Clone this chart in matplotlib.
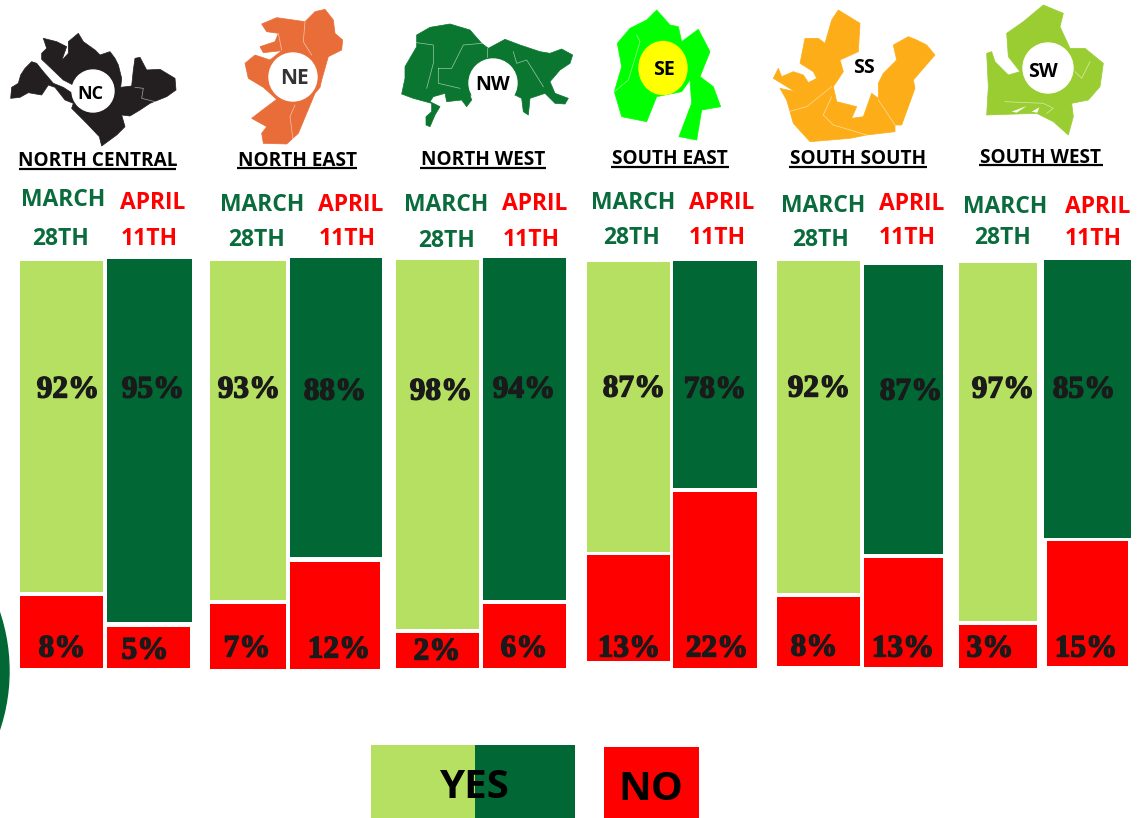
# -*- coding: utf-8 -*-
import numpy as np
import matplotlib
matplotlib.use('Agg')
import matplotlib.pyplot as plt
import matplotlib.patheffects as pe
from matplotlib.patches import Circle, Ellipse, Polygon, Rectangle

# region names and map badges
regions = ['NORTH CENTRAL', 'NORTH EAST', 'NORTH WEST', 'SOUTH EAST', 'SOUTH SOUTH', 'SOUTH WEST']
badges = ['NC', 'NE', 'NW', 'SE', 'SS', 'SW']

# printed percentages
yes_march = [92, 93, 98, 87, 92, 97]
yes_april = [95, 88, 94, 78, 87, 85]
no_march = [8, 7, 2, 13, 8, 3]
no_april = [5, 12, 6, 22, 13, 15]

# the blocks in the picture are not to scale with the printed figures,
# so their lengths are read off separately
yes_march_len = [331, 339, 369, 290, 332, 358]
yes_april_len = [363, 299, 342, 227, 289, 278]
no_march_len = [72, 65, 35, 106, 69, 43]
no_april_len = [41, 107, 64, 176, 109, 125]

# layout, in pixels of the image
march_left = [20, 210, 396, 587, 777, 959]
march_width = [83, 76, 83, 83, 83, 78]
april_left = [107, 290, 483, 673, 864, 1044]
april_width = [85, 92, 83, 84, 79, 87]
no_april_left = [107, 290, 483, 673, 864, 1047]
no_april_width = [83, 90, 83, 84, 79, 81]
march_top = [261, 261, 260, 262, 261, 263]
april_top = [259, 258, 258, 261, 265, 260]
no_march_top = [596, 604, 633, 555, 597, 625]
no_april_top = [627, 562, 604, 492, 558, 541]

LIGHT = '#b5e061'
DARK = '#016735'
RED = '#ff0000'
TEXT_GREEN = '#0a6b3c'
INK = '#1a1a1a'

HEAD = 'Open Sans'
NUM = ['Liberation Serif', 'DejaVu Serif']

fig = plt.figure(figsize=(11.37, 8.18), dpi=100)
ax = fig.add_axes([0, 0, 1, 1])
ax.set_xlim(0, 1137)
ax.set_ylim(818, 0)
ax.axis('off')

# stacked blocks
ax.bar(march_left, yes_march_len, march_width, bottom=march_top, align='edge', color=LIGHT)
ax.bar(april_left, yes_april_len, april_width, bottom=april_top, align='edge', color=DARK)
ax.bar(march_left, no_march_len, march_width, bottom=no_march_top, align='edge', color=RED)
ax.bar(no_april_left, no_april_len, no_april_width, bottom=no_april_top, align='edge', color=RED)

# percent labels
yes_march_x = [68, 249, 441, 634, 819, 1003]
yes_april_x = [153, 335, 524, 715, 911, 1084]
no_march_x = [62, 247, 437, 629, 814, 990]
no_april_x = [145, 339, 524, 717, 903, 1086]
yes_march_y = [390, 390, 392, 389, 389, 390]
yes_april_y = [390, 392, 390, 390, 392, 390]
no_march_y = [649, 649, 652, 649, 648, 649]
no_april_y = [651, 650, 649, 649, 649, 649]


def pct(xs, ys, vals):
    for x, y, v in zip(xs, ys, vals):
        t = ax.text(x, y, '%d%%' % v, ha='center', va='center', fontsize=22.5,
                    fontweight='bold', family=NUM, color=INK)
        # the original face is much fatter than anything installed
        t.set_path_effects([pe.withStroke(linewidth=1.0, foreground=INK)])


pct(yes_march_x, yes_march_y, yes_march)
pct(yes_april_x, yes_april_y, yes_april)
pct(no_march_x, no_march_y, no_march)
pct(no_april_x, no_april_y, no_april)

# column headings
march_x = [63, 262, 446, 633, 823, 1005]
march_y = [200, 205, 205, 203, 206, 207]
th28_x = [61, 257, 447, 632, 821, 1003]
th28_y = [239, 240, 241, 238, 240, 238]
april_x = [153, 351, 535, 722, 912, 1098]
april_y = [203, 205, 204, 203, 204, 207]
th11_x = [149, 347, 531, 717, 907, 1093]
th11_y = [239, 239, 240, 238, 238, 239]

for i in range(6):
    ax.text(march_x[i], march_y[i], 'MARCH', ha='center', va='center', fontsize=16.5, fontweight='bold', family=HEAD, color=TEXT_GREEN)
    ax.text(th28_x[i], th28_y[i], '28TH', ha='center', va='center', fontsize=16.5, fontweight='bold', family=HEAD, color=TEXT_GREEN)
    ax.text(april_x[i], april_y[i], 'APRIL', ha='center', va='center', fontsize=16.5, fontweight='bold', family=HEAD, color=RED)
    ax.text(th11_x[i], th11_y[i], '11TH', ha='center', va='center', fontsize=16.5, fontweight='bold', family=HEAD, color=RED)

# region titles with underline
title_x = [98, 297, 483, 670, 858, 1041]
title_y = [161, 161, 160, 159, 159, 158]
rule_y = [169, 168, 168, 167, 167, 165]
rule_a = [19, 237, 420, 611, 789, 979]
rule_b = [176, 357, 546, 729, 927, 1103]
for i in range(6):
    ax.text(title_x[i], title_y[i], regions[i], ha='center', va='center', fontsize=13.7, fontweight='bold', family=HEAD, color='black')
    ax.plot([rule_a[i], rule_b[i]], [rule_y[i], rule_y[i]], color='black', lw=1.6, solid_capstyle='butt')


# map outlines traced at 3x, x0 is the crop corner
def to_px(points, x0):
    pts = np.array(points, dtype=float) / 3.0
    pts[:, 0] += x0
    return pts


def shape(points, x0, color):
    ax.add_patch(Polygon(to_px(points, x0), closed=True, facecolor=color, edgecolor=color, lw=0.5, joinstyle='round'))


def borders(lines, x0, lw=0.5):
    for line in lines:
        pts = to_px(line, x0)
        ax.plot(pts[:, 0], pts[:, 1], color='white', lw=lw, alpha=0.6)


nc_outline = [(32, 295), (35, 262), (55, 250), (62, 225), (75, 205), (95, 185), (110, 190), (130, 215), (160, 250),
              (190, 262), (225, 285), (225, 258), (190, 240), (125, 178), (125, 160), (140, 145), (130, 115), (170, 125),
              (200, 140), (185, 182), (205, 160), (205, 125), (235, 100), (250, 125), (285, 150), (300, 165), (330, 155),
              (345, 175), (355, 195), (365, 235), (362, 262), (395, 258), (400, 210), (405, 175), (420, 172), (440, 210),
              (480, 208), (525, 235), (528, 270), (500, 290), (450, 310), (420, 330), (390, 348), (365, 345), (375, 380),
              (350, 405), (305, 438), (298, 410), (260, 370), (235, 345), (215, 325), (220, 310), (195, 300), (165, 262),
              (145, 255), (125, 285), (85, 278), (60, 292)]
ne_outline = [(785, 72), (830, 53), (915, 65), (945, 35), (975, 28), (1000, 60), (1005, 100), (1028, 120), (1025, 150),
              (985, 170), (965, 240), (960, 262), (945, 280), (920, 340), (895, 400), (860, 432), (790, 430), (785, 400),
              (800, 380), (755, 355), (790, 328), (830, 298), (790, 262), (745, 235), (735, 190), (765, 165), (810, 180),
              (845, 152), (790, 158), (780, 140), (825, 125), (835, 100), (800, 95)]
nw_outline = [(110, 105), (150, 82), (210, 72), (270, 90), (305, 130), (325, 145), (375, 118), (420, 135), (480, 155),
              (510, 160), (545, 147), (578, 165), (570, 190), (540, 210), (510, 245), (525, 280), (565, 295), (555, 312),
              (525, 310), (495, 280), (450, 295), (445, 345), (430, 335), (425, 295), (405, 285), (270, 285), (275, 300),
              (260, 320), (245, 300), (200, 305), (195, 280), (160, 290), (150, 305), (180, 320), (165, 345), (150, 380),
              (138, 375), (138, 350), (155, 335), (155, 310), (100, 295), (65, 282), (75, 235), (75, 200), (110, 140)]
se_outline = [(712, 130), (750, 85), (800, 60), (830, 30), (870, 75), (895, 80), (905, 125), (955, 88), (990, 155),
              (960, 230), (1000, 260), (1022, 320), (965, 330), (950, 420), (897, 410), (935, 310), (930, 240), (905, 275),
              (830, 290), (800, 365), (725, 350), (703, 275), (725, 200)]
ss_outline = [(40, 235), (55, 205), (65, 230), (100, 215), (130, 225), (145, 248), (170, 235), (160, 215), (120, 190),
              (135, 115), (175, 115), (195, 130), (215, 60), (235, 30), (300, 70), (295, 155), (240, 180), (250, 215),
              (220, 260), (230, 305), (290, 320), (275, 355), (310, 350), (335, 280), (355, 295), (355, 250), (370, 220),
              (410, 180), (400, 135), (445, 110), (470, 120), (500, 135), (525, 165), (460, 240), (465, 265), (425, 375),
              (405, 375), (405, 395), (320, 405), (270, 415), (150, 425), (100, 370), (80, 300), (60, 265), (105, 275)]
sw_outline = [(680, 160), (695, 155), (705, 185), (745, 225), (780, 215), (745, 170), (740, 100), (790, 65), (850, 15),
              (910, 40), (900, 80), (930, 145), (975, 145), (1030, 190), (1020, 260), (985, 300), (935, 310), (940, 350),
              (925, 405), (880, 365), (830, 340), (680, 345), (685, 260)]

shape(nc_outline, 0, '#231f20')
shape(ne_outline, 0, '#e96d39')
shape(nw_outline, 380, '#0a762f')
shape(se_outline, 380, '#00ff00')
shape(ss_outline, 760, '#fdad18')
shape(sw_outline, 760, '#9acd32')

# state lines and lagoons inside the maps
borders([[(405, 262), (430, 265), (425, 295), (465, 305)]], 0)
borders([[(835, 100), (845, 150)], [(915, 65), (910, 125), (935, 165)], [(885, 315), (870, 350), (880, 425)]], 0)
borders([[(110, 128), (160, 135), (160, 190), (140, 265)], [(175, 205), (175, 250), (240, 265)],
         [(175, 205), (215, 205), (250, 135), (305, 130)], [(322, 145), (322, 170)],
         [(400, 155), (410, 190), (440, 180), (490, 260)]], 380)
borders([[(770, 105), (780, 125), (745, 240), (703, 275)]], 380)
borders([[(85, 335), (140, 320), (215, 260)], [(190, 345), (215, 290)], [(190, 345), (220, 375), (320, 405)],
         [(355, 300), (405, 375)]], 760)
borders([[(990, 185), (965, 235), (945, 215)], [(735, 305), (850, 310), (880, 325), (860, 340)]], 760)
ax.add_patch(Polygon(to_px([(755, 335), (800, 318), (770, 338)], 760), color='white', lw=0))
ax.add_patch(Polygon(to_px([(815, 335), (838, 322), (832, 338)], 760), color='white', lw=0))

# badges on the maps
ax.add_patch(Circle((93, 91), 21, color='white'))
ax.add_patch(Circle((293, 77), 24, color='white'))
ax.add_patch(Circle((493, 83), 24, color='white'))
ax.add_patch(Ellipse((663, 68), 48, 53, color='#ffff00'))
ax.add_patch(Circle((1048, 68), 25, color='white'))
badge_x = [90, 294, 493, 664, 864, 1043]
badge_y = [94, 78, 85, 70, 68, 72]
badge_size = [13, 15, 14, 14, 14, 14]
badge_c = ['black', '#333333', 'black', 'black', 'black', 'black']
for i in range(6):
    ax.text(badge_x[i], badge_y[i], badges[i], ha='center', va='center', fontsize=badge_size[i], fontweight='bold', family=HEAD, color=badge_c[i])

# piece of a dark green ring at the left edge
ax.add_patch(Circle((-176, 671), 185, color=DARK))

# legend
ax.add_patch(Rectangle((371, 745), 104, 73, color=LIGHT, lw=0))
ax.add_patch(Rectangle((475, 745), 100, 73, color=DARK, lw=0))
ax.add_patch(Rectangle((604, 747), 95, 71, color=RED, lw=0))
ax.text(474, 788, 'YES', ha='center', va='center', fontsize=29, fontweight='bold', family=HEAD, color='black')
ax.text(651, 790, 'NO', ha='center', va='center', fontsize=29, fontweight='bold', family=HEAD, color='black')

fig.savefig('out.png', dpi=100)
